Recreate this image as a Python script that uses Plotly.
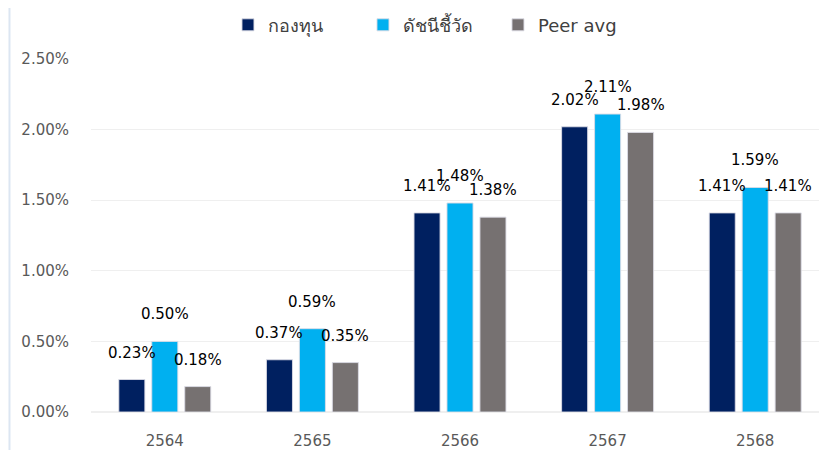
import plotly.graph_objects as go

years = ["2564", "2565", "2566", "2567", "2568"]
fund = [0.0023, 0.0037, 0.0141, 0.0202, 0.0141]
benchmark = [0.0050, 0.0059, 0.0148, 0.0211, 0.0159]
peer = [0.0018, 0.0035, 0.0138, 0.0198, 0.0141]
series_names = ["กองทุน", "ดัชนีชี้วัด", "Peer avg"]
colors = ["#002060", "#00B0F0", "#767171"]
y_ticks = [0, 0.005, 0.01, 0.015, 0.02, 0.025]

FONT = "Tahoma, DejaVu Sans, Noto Sans, sans-serif"
L, R, T, B = 83, 6, 51, 46
W, H = 827, 450

fig = go.Figure()
all_series = [fund, benchmark, peer]
for name, vals, col in zip(series_names, all_series, colors):
    fig.add_trace(go.Bar(
        x=years, y=vals, name=name,
        marker=dict(color=col, line=dict(color="rgba(220,220,230,0.9)", width=1)),
    ))

shifts = [-33, 0, 33]
for vals, dx in zip(all_series, shifts):
    for i, v in enumerate(vals):
        fig.add_annotation(
            x=i, y=v, xshift=dx, yshift=16, yanchor="bottom",
            text=f"{v*100:.2f}%", showarrow=False,
            font=dict(family=FONT, size=15, color="#000000"),
        )

fig.add_shape(type="line", xref="paper", yref="paper",
              x0=-L / (W - L - R) + 0.002, x1=-L / (W - L - R) + 0.002,
              y0=-0.3, y1=1.3,
              line=dict(color="#DCE6F2", width=2))

fig.update_layout(
    width=W, height=H,
    margin=dict(l=L, r=R, t=T, b=B),
    paper_bgcolor="white", plot_bgcolor="white",
    barmode="group", bargap=0.33, bargroupgap=0.21,
    font=dict(family=FONT, size=15, color="#595959"),
    legend=dict(orientation="h", x=0.46, xanchor="center",
                yref="container", y=0.962, yanchor="middle",
                font=dict(family=FONT, size=18, color="#404040"),
                entrywidth=90, entrywidthmode="pixels",
                traceorder="normal"),
    showlegend=True,
)
fig.update_yaxes(range=[0, 0.025], tickvals=y_ticks, tickformat=".2%",
                 showgrid=True, gridcolor="#EFEFEF", gridwidth=1,
                 zeroline=True, zerolinecolor="#EFEFEF",
                 ticks="", ticklabelstandoff=21,
                 tickfont=dict(family=FONT, size=15, color="#595959"))
fig.update_xaxes(type="category", range=[-0.5, len(years) - 0.5],
                 showline=False, ticks="", ticklabelstandoff=18,
                 tickfont=dict(family=FONT, size=15, color="#595959"))

fig.write_html("out.html")
